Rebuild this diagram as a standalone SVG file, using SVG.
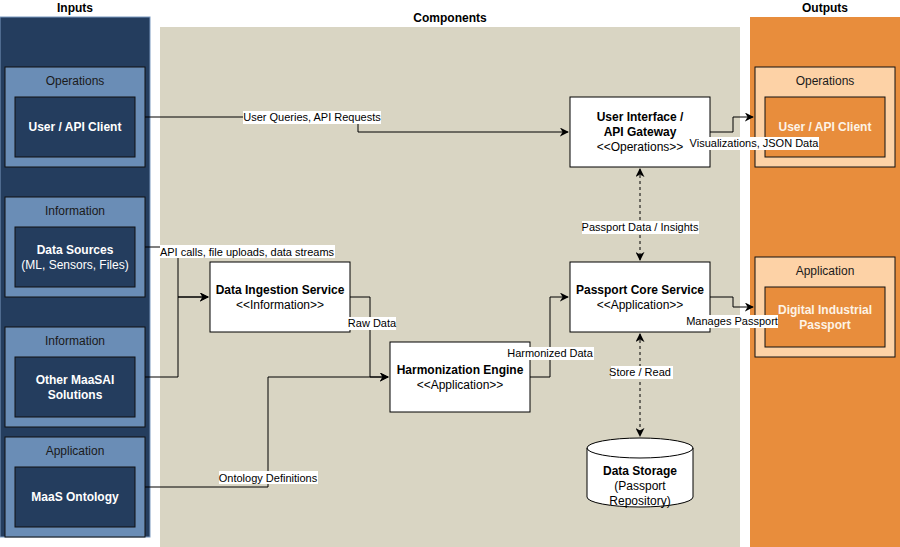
<svg xmlns="http://www.w3.org/2000/svg" width="900" height="547" viewBox="0 0 900 547">
<style>
text{font-family:"Liberation Sans",Arial,sans-serif;text-anchor:middle;dominant-baseline:central}
.title{font-size:12px;font-weight:bold;fill:#000}
.grp{font-size:12px;fill:#1a1a1a}
.inb{font-size:12px;font-weight:bold;fill:#ffffff}
.inr{font-size:12px;fill:#ffffff}
.outb{font-size:12px;font-weight:bold;fill:#fdf3e6}
.nb{font-size:12px;font-weight:bold;fill:#000}
.nr{font-size:12px;fill:#000}
.lbl{font-size:11px;fill:#000}
.lblbg{fill:#ffffff}
.ingrp{fill:#6a8db6;stroke:#111;stroke-width:1}
.inbox{fill:#243d5e;stroke:#111;stroke-width:1}
.outgrp{fill:#fdd2a6;stroke:#111;stroke-width:1}
.outbox{fill:#e88d3c;stroke:#111;stroke-width:1}
.node{fill:#ffffff;stroke:#000;stroke-width:1}
.conn{fill:none;stroke:#000;stroke-width:1}
.dash{stroke-dasharray:3 3}
</style>
<defs>
<marker id="arr" viewBox="0 0 10 10" refX="9" refY="5" markerWidth="9" markerHeight="9" markerUnits="userSpaceOnUse" orient="auto-start-reverse">
<path d="M0,0 L10,5 L0,10 L3,5 Z" fill="#000"/>
</marker>
</defs>
<rect width="900" height="547" fill="#ffffff"/>

<!-- Columns -->
<g id="col-inputs">
<rect x="0" y="17" width="150" height="520" fill="#243d5e" stroke="#7b99bf" stroke-width="1"/>
<text class="title" x="75" y="8">Inputs</text>
</g>
<g id="col-components">
<rect x="160" y="27" width="580" height="520" fill="#d9d5c3"/>
<text class="title" x="450" y="18">Components</text>
</g>
<g id="col-outputs">
<rect x="750" y="17" width="150" height="530" fill="#e88d3c"/>
<text class="title" x="825" y="8">Outputs</text>
</g>

<!-- Input groups -->
<g id="in-operations">
<rect class="ingrp" x="5" y="67" width="140" height="100"/>
<text class="grp" x="75" y="81">Operations</text>
<rect class="inbox" x="15" y="97" width="120" height="60"/>
<text class="inb" x="75" y="127">User / API Client</text>
</g>
<g id="in-datasources">
<rect class="ingrp" x="5" y="197" width="140" height="100"/>
<text class="grp" x="75" y="211">Information</text>
<rect class="inbox" x="15" y="227" width="120" height="60"/>
<text class="inb" x="75" y="250">Data Sources</text>
<text class="inr" x="75" y="265">(ML, Sensors, Files)</text>
</g>
<g id="in-other">
<rect class="ingrp" x="5" y="327" width="140" height="100"/>
<text class="grp" x="75" y="341">Information</text>
<rect class="inbox" x="15" y="357" width="120" height="60"/>
<text class="inb" x="75" y="380">Other MaaSAI</text>
<text class="inb" x="75" y="395">Solutions</text>
</g>
<g id="in-ontology">
<rect class="ingrp" x="5" y="437" width="140" height="100"/>
<text class="grp" x="75" y="451">Application</text>
<rect class="inbox" x="15" y="467" width="120" height="60"/>
<text class="inb" x="75" y="497">MaaS Ontology</text>
</g>

<!-- Output groups -->
<g id="out-operations">
<rect class="outgrp" x="755" y="67" width="140" height="100"/>
<text class="grp" x="825" y="81">Operations</text>
<rect class="outbox" x="765" y="97" width="120" height="60"/>
<text class="outb" x="825" y="127">User / API Client</text>
</g>
<g id="out-passport">
<rect class="outgrp" x="755" y="257" width="140" height="100"/>
<text class="grp" x="825" y="271">Application</text>
<rect class="outbox" x="765" y="287" width="120" height="60"/>
<text class="outb" x="825" y="310">Digital Industrial</text>
<text class="outb" x="825" y="325">Passport</text>
</g>

<!-- Component nodes -->
<g id="ui-gateway">
<rect class="node" x="570" y="97" width="140" height="70"/>
<text class="nb" x="640" y="117">User Interface /</text>
<text class="nb" x="640" y="132">API Gateway</text>
<text class="nr" x="640" y="147">&lt;&lt;Operations&gt;&gt;</text>
</g>
<g id="passport-core">
<rect class="node" x="570" y="262" width="140" height="70"/>
<text class="nb" x="640" y="290">Passport Core Service</text>
<text class="nr" x="640" y="305">&lt;&lt;Application&gt;&gt;</text>
</g>
<g id="data-ingestion">
<rect class="node" x="210" y="262" width="140" height="70"/>
<text class="nb" x="280" y="290">Data Ingestion Service</text>
<text class="nr" x="280" y="305">&lt;&lt;Information&gt;&gt;</text>
</g>
<g id="harmonization">
<rect class="node" x="390" y="342" width="140" height="70"/>
<text class="nb" x="460" y="370">Harmonization Engine</text>
<text class="nr" x="460" y="385">&lt;&lt;Application&gt;&gt;</text>
</g>
<g id="data-storage">
<path class="node" d="M587,448 A53,10 0 0 1 693,448 L693,497 A53,10 0 0 1 587,497 Z"/>
<path class="conn" d="M587,448 A53,10 0 0 0 693,448"/>
<text class="nb" x="640" y="471">Data Storage</text>
<text class="nr" x="640" y="486">(Passport</text>
<text class="nr" x="640" y="501">Repository)</text>
</g>

<!-- Connectors -->
<g id="connectors">
<path class="conn" d="M145,117 L358,117 L358,132 L568,132" marker-end="url(#arr)"/>
<path class="conn" d="M145,247 L178,247 L178,297 L208,297" marker-end="url(#arr)"/>
<path class="conn" d="M145,377 L178,377 L178,297 L208,297" marker-end="url(#arr)"/>
<path class="conn" d="M350,297 L370,297 L370,377 L388,377" marker-end="url(#arr)"/>
<path class="conn" d="M145,487 L268,487 L268,377 L388,377" marker-end="url(#arr)"/>
<path class="conn" d="M530,377 L550,377 L550,297 L568,297" marker-end="url(#arr)"/>
<path class="conn" d="M710,297 L733,297 L733,307 L753,307" marker-end="url(#arr)"/>
<path class="conn" d="M710,132 L733,132 L733,117 L753,117" marker-end="url(#arr)"/>
<path class="conn dash" d="M640,169 L640,260" marker-start="url(#arr)" marker-end="url(#arr)"/>
<path class="conn dash" d="M640,334 L640,436" marker-start="url(#arr)" marker-end="url(#arr)"/>

<rect class="lblbg" x="243" y="111" width="138" height="13"/>
<text class="lbl" x="312" y="117">User Queries, API Requests</text>
<rect class="lblbg" x="160" y="245" width="175" height="13"/>
<text class="lbl" x="247" y="252">API calls, file uploads, data streams</text>
<rect class="lblbg" x="348" y="317" width="48" height="13"/>
<text class="lbl" x="372" y="323">Raw Data</text>
<rect class="lblbg" x="219" y="471" width="99" height="13"/>
<text class="lbl" x="268" y="478">Ontology Definitions</text>
<rect class="lblbg" x="507" y="347" width="87" height="13"/>
<text class="lbl" x="550" y="353">Harmonized Data</text>
<rect class="lblbg" x="687" y="315" width="91" height="13"/>
<text class="lbl" x="732" y="321">Manages Passport</text>
<rect class="lblbg" x="690" y="137" width="129" height="13"/>
<text class="lbl" x="754" y="143">Visualizations, JSON Data</text>
<rect class="lblbg" x="582" y="221" width="117" height="13"/>
<text class="lbl" x="640" y="227">Passport Data / Insights</text>
<rect class="lblbg" x="611" y="366" width="62" height="13"/>
<text class="lbl" x="640" y="372">Store / Read</text>
</g>
</svg>
